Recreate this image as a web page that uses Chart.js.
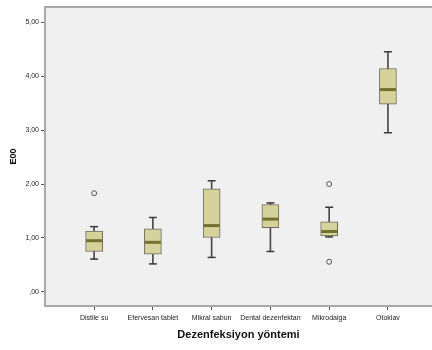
<!DOCTYPE html>
<html>
<head>
<meta charset="utf-8">
<script src="https://cdn.jsdelivr.net/npm/chart.js@4.4.0/dist/chart.umd.min.js"></script>
<style>
body { margin: 0; background: #fff; }
</style>
</head>
<body>
<canvas id="boxChart" width="432" height="350"></canvas>
<script>
var categories = ['Distile su', 'Efervesan tablet', 'Mikral sabun', 'Dental dezenfektan', 'Mikrodalga', 'Otoklav'];
var whiskerLow = [0.61, 0.52, 0.64, 0.75, 1.02, 2.95];
var q1 = [0.75, 0.70, 1.01, 1.19, 1.04, 3.48];
var median = [0.95, 0.92, 1.23, 1.35, 1.12, 3.75];
var q3 = [1.13, 1.17, 1.91, 1.62, 1.30, 4.14];
var whiskerHigh = [1.21, 1.38, 2.06, 1.65, 1.57, 4.45];
var outliers = [[1.83], [], [], [], [2.00, 0.56], []];
var yTicks = [0, 1, 2, 3, 4, 5];
var yTickLabels = [',00', '1,00', '2,00', '3,00', '4,00', '5,00'];

function load_data_view() {
    var whiskerData = [], boxData = [], medianData = [], capData = [], outlierData = [];
    for (var i = 0; i < categories.length; i++) {
        whiskerData.push({x: i, y: [whiskerLow[i], whiskerHigh[i]]});
        boxData.push({x: i, y: [q1[i], q3[i]]});
        medianData.push({x: i, y: median[i]});
        capData.push({x: i, y: whiskerLow[i]});
        capData.push({x: i, y: whiskerHigh[i]});
        for (var j = 0; j < outliers[i].length; j++) {
            outlierData.push({x: i, y: outliers[i][j]});
        }
    }

    var plotBg = {
        id: 'plotBg',
        beforeDraw: function(chart) {
            var a = chart.chartArea, c = chart.ctx;
            c.save();
            c.fillStyle = '#f0f0f0';
            c.fillRect(a.left, a.top, a.right - a.left, a.bottom - a.top);
            c.strokeStyle = '#a8a8a8';
            c.lineWidth = 2;
            c.beginPath();
            c.moveTo(a.left, a.top);
            c.lineTo(a.right + 2, a.top);
            c.stroke();
            c.restore();
        }
    };

    var ctx = document.getElementById('boxChart').getContext('2d');
    var boxChart = new Chart(ctx, {
        type: 'bar',
        data: {
            datasets: [{
                label: 'whisker',
                data: whiskerData,
                backgroundColor: '#4a4a4a',
                barThickness: 1,
                grouped: false,
                order: 4
            }, {
                label: 'box',
                data: boxData,
                backgroundColor: '#d6d29c',
                borderColor: '#6a6a5a',
                borderWidth: 1,
                borderSkipped: false,
                barThickness: 17,
                grouped: false,
                order: 3
            }, {
                type: 'scatter',
                label: 'median',
                data: medianData,
                pointStyle: 'line',
                pointRadius: 8,
                pointBorderWidth: 3,
                pointBorderColor: '#76702e',
                order: 1
            }, {
                type: 'scatter',
                label: 'cap',
                data: capData,
                pointStyle: 'line',
                pointRadius: 4,
                pointBorderWidth: 1.5,
                pointBorderColor: '#3a3a3a',
                order: 2
            }, {
                type: 'scatter',
                label: 'outlier',
                data: outlierData,
                pointStyle: 'circle',
                pointRadius: 2.5,
                pointBorderWidth: 1,
                pointBorderColor: '#555555',
                pointBackgroundColor: 'rgba(0,0,0,0)',
                order: 0
            }]
        },
        options: {
            responsive: false,
            animation: false,
            layout: {autoPadding: false, padding: {top: 7, right: 0, left: 8, bottom: 4}},
            plugins: {legend: {display: false}, tooltip: {enabled: false}},
            scales: {
                x: {
                    type: 'linear',
                    offset: false,
                    min: -0.836,
                    max: 5.75,
                    afterBuildTicks: function(axis) {
                        axis.ticks = categories.map(function(c, i) { return {value: i}; });
                    },
                    afterFit: function(axis) { axis.height = 40; },
                    ticks: {
                        callback: function(v) { return categories[v]; },
                        font: {family: 'Liberation Sans', size: 7},
                        color: '#222',
                        padding: 4,
                        maxRotation: 0,
                        autoSkip: false
                    },
                    grid: {drawOnChartArea: false, offset: false, tickLength: 4, color: '#555'},
                    border: {color: '#a8a8a8', width: 2},
                    title: {
                        display: true,
                        text: 'Dezenfeksiyon yöntemi',
                        font: {family: 'Liberation Sans', size: 11, weight: 'bold'},
                        color: '#111',
                        padding: {top: 7}
                    }
                },
                y: {
                    min: -0.26,
                    max: 5.28,
                    afterBuildTicks: function(axis) {
                        axis.ticks = yTicks.map(function(v) { return {value: v}; });
                    },
                    afterFit: function(axis) { axis.width = 37; },
                    ticks: {
                        callback: function(v) { return yTickLabels[yTicks.indexOf(v)]; },
                        font: {family: 'Liberation Sans', size: 7},
                        color: '#222',
                        padding: 2
                    },
                    grid: {drawOnChartArea: false, tickLength: 4, color: '#555'},
                    border: {color: '#a8a8a8', width: 2},
                    title: {
                        display: true,
                        text: 'E00',
                        font: {family: 'Liberation Sans', size: 9, weight: 'bold'},
                        color: '#111',
                        padding: 0
                    }
                }
            }
        },
        plugins: [plotBg]
    });
}

window.onload = function() {
    load_data_view();
};
</script>
</body>
</html>
